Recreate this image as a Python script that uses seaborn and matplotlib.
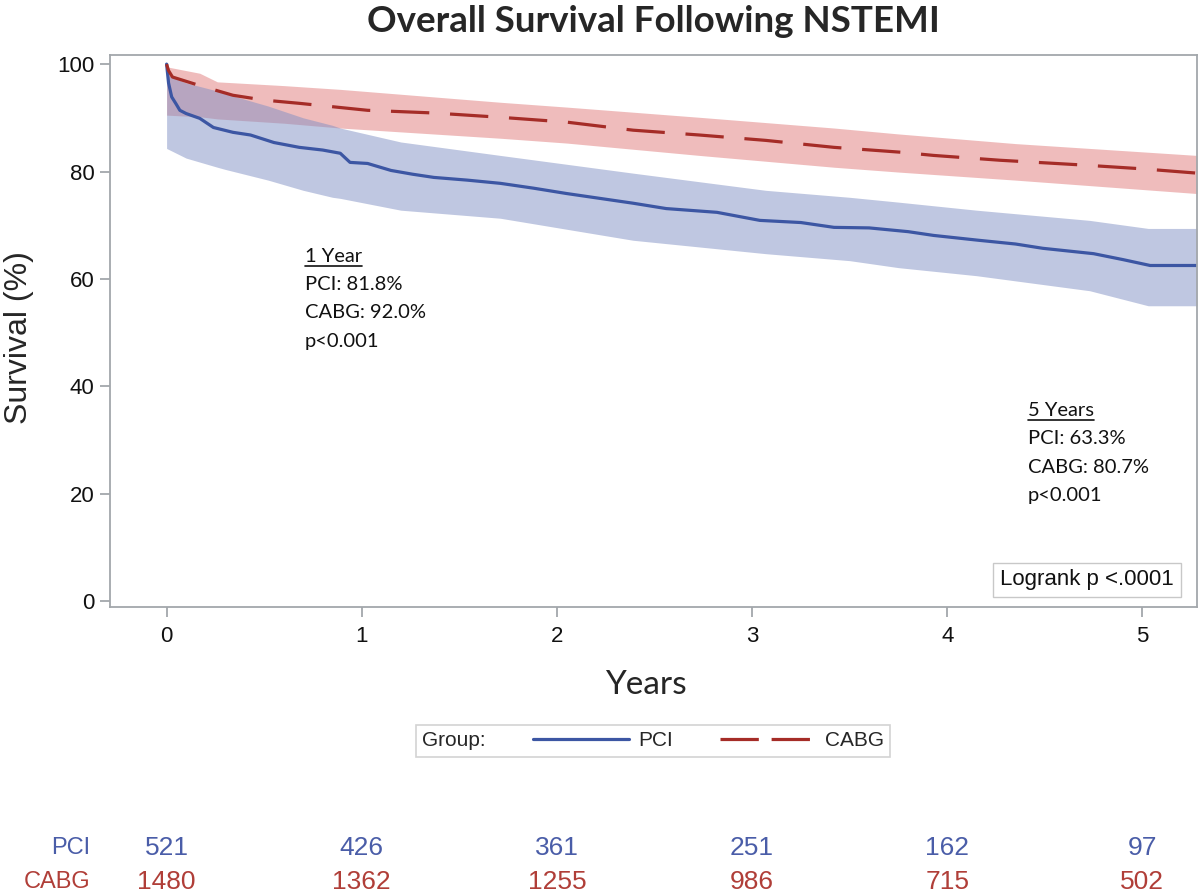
import numpy as np
import pandas as pd
import seaborn as sns
import matplotlib
matplotlib.use("Agg")
from matplotlib import pyplot as plt
from matplotlib import transforms
from matplotlib.lines import Line2D

# Kaplan-Meier estimates (years, survival %)
pci_t = [0, 0.01, 0.026, 0.05, 0.068, 0.10, 0.17, 0.24, 0.34, 0.43, 0.55, 0.68,
         0.80, 0.89, 0.94, 1.03, 1.15, 1.26, 1.37, 1.54, 1.71, 1.88, 2.05, 2.22,
         2.39, 2.56, 2.82, 3.04, 3.25, 3.42, 3.60, 3.80, 3.93, 4.16, 4.35, 4.49,
         4.62, 4.75, 4.90, 5.04, 5.28]
pci_s = [100, 96.5, 93.9, 92.5, 91.4, 90.8, 89.9, 88.2, 87.3, 86.8, 85.4, 84.5,
         84.0, 83.4, 81.7, 81.5, 80.2, 79.5, 78.9, 78.4, 77.8, 76.9, 75.9, 75.0,
         74.1, 73.1, 72.4, 70.9, 70.5, 69.6, 69.5, 68.8, 68.1, 67.2, 66.5, 65.7,
         65.2, 64.7, 63.6, 62.5, 62.5]

cabg_t = [0, 0.01, 0.03, 0.10, 0.17, 0.34, 0.50, 0.68, 1.03, 1.37, 1.71, 2.05,
          2.39, 2.73, 3.07, 3.42, 3.76, 3.93, 4.27, 4.70, 5.00, 5.28]
cabg_s = [100, 98.8, 97.6, 96.8, 96.0, 94.2, 93.3, 92.7, 91.4, 90.9, 90.1, 89.2,
          87.7, 86.8, 85.8, 84.5, 83.6, 83.0, 82.1, 81.2, 80.5, 79.7]

# 95% confidence bands
pci_band_t = [0, 0.10, 0.26, 0.30, 0.52, 0.70, 0.85, 0.89, 1.20, 1.71, 2.39,
              3.07, 3.50, 3.75, 4.15, 4.73, 5.03, 5.28]
pci_lower = [84.3, 82.5, 80.8, 80.4, 78.4, 76.5, 75.2, 75.0, 72.8, 71.3, 67.2,
             64.7, 63.4, 62.1, 60.6, 57.8, 55.0, 55.0]
pci_upper = [98.0, 96.5, 95.0, 94.5, 92.2, 90.0, 88.6, 88.1, 85.5, 83.0, 79.7,
             76.5, 75.2, 74.3, 72.8, 70.9, 69.4, 69.4]

cabg_band_t = [0, 0.17, 0.26, 0.60, 0.89, 1.71, 2.05, 2.73, 3.42, 3.75, 4.35,
               5.28]
cabg_lower = [90.5, 90.2, 89.8, 89.0, 88.1, 86.2, 85.3, 83.0, 80.8, 79.9, 78.4,
              75.9]
cabg_upper = [99.5, 98.3, 96.7, 96.0, 95.3, 92.9, 92.0, 90.1, 88.1, 87.0, 85.2,
              83.0]

# numbers at risk
risk_years = [0, 1, 2, 3, 4, 5]
pci_risk = [521, 426, 361, 251, 162, 97]
cabg_risk = [1480, 1362, 1255, 986, 715, 502]

blue = "#3C56A3"
red = "#A52C27"
blue_txt = "#4A5DA8"
red_txt = "#B03E38"
lato = ["Lato", "DejaVu Sans"]

sns.set_theme(style="white")
plt.rcParams["font.family"] = ["Liberation Sans", "DejaVu Sans"]

fig = plt.figure(figsize=(12, 8.93), dpi=100)
W, H = 1200, 893
ax = fig.add_axes([110 / W, 1 - 607 / H, 1087 / W, 552 / H])

ax.fill_between(cabg_band_t, cabg_lower, cabg_upper,
                color="#E07A7A", alpha=0.5, lw=0)
ax.fill_between(pci_band_t, pci_lower, pci_upper,
                color="#8090C4", alpha=0.5, lw=0)

df = pd.concat([
    pd.DataFrame({"Years": pci_t, "Survival": pci_s, "Group": "PCI"}),
    pd.DataFrame({"Years": cabg_t, "Survival": cabg_s, "Group": "CABG"}),
])
sns.lineplot(data=df, x="Years", y="Survival", hue="Group", style="Group",
             palette={"PCI": blue, "CABG": red},
             dashes={"PCI": "", "CABG": (12, 6.5)},
             estimator=None, sort=False,
             linewidth=2.3, legend=False, ax=ax)

ax.set_xlim(-0.29, 5.28)
ax.set_ylim(-1.1, 101.7)
ax.set_xticks([0, 1, 2, 3, 4, 5])
ax.set_yticks([0, 20, 40, 60, 80, 100])
for s in ax.spines.values():
    s.set_color("#A3A7AB")
    s.set_linewidth(1.3)
ax.tick_params(axis="both", which="major", length=7, width=1.3,
               color="#A3A7AB", labelsize=16, labelcolor="#111111")
ax.tick_params(axis="x", pad=7)
ax.tick_params(axis="y", pad=4)
ax.xaxis.set_ticks_position("bottom")
ax.yaxis.set_ticks_position("left")

ax.set_xlabel("Years", fontsize=24, family=lato)
ax.set_ylabel("Survival (%)", fontsize=23)
ax.xaxis.set_label_coords((646 - 110) / 1087, (607 - 670) / 552)
ax.yaxis.set_label_coords((34 - 110) / 1087, (607 - 338) / 552)

fig.text(653 / W, 1 - 21 / H, "Overall Survival Following NSTEMI",
         ha="center", va="center", fontsize=26.5, fontweight="bold",
         family=lato)

# annotation blocks
def block(x_px, y_px, lines, pitch=28.5):
    for i, line in enumerate(lines):
        t = fig.text(x_px / W, 1 - (y_px + i * pitch) / H, line,
                     ha="left", va="center", fontsize=14.5,
                     family=lato, color="#111111")
        if i == 0:
            fig.canvas.draw()
            bb = t.get_window_extent()
            yb = bb.y0 - 1
            fig.add_artist(Line2D([bb.x0 / W, bb.x1 / W], [yb / H, yb / H],
                                  color="#111111", lw=1.2))

block(305, 256, ["1 Year", "PCI: 81.8%", "CABG: 92.0%", "p<0.001"])
block(1028, 410, ["5 Years", "PCI: 63.3%", "CABG: 80.7%", "p<0.001"])

fig.text(1087 / W, 1 - 580 / H, "Logrank p <.0001", ha="center", va="center",
         fontsize=16, color="#111111",
         bbox=dict(boxstyle="square,pad=0.3", fc="white", ec="#C8C8C8", lw=1))

# legend with the title on the left
handles = [Line2D([], [], color=blue, lw=2.3),
           Line2D([], [], color=red, lw=2.3, dashes=(12, 4))]
leg = fig.legend(handles, ["PCI", "CABG"], title="Group:", ncol=2,
                 loc="center", bbox_to_anchor=(653 / W, 1 - 741 / H),
                 fontsize=15, title_fontsize=15, handlelength=4.6,
                 handletextpad=0.45, columnspacing=0.7, frameon=True,
                 fancybox=False, edgecolor="#C8C8C8", borderpad=0.3)
leg.get_frame().set_linewidth(1.2)
box = leg._legend_box
title_box, handle_box = box.get_children()
box._children = [handle_box]
handle_box._children.insert(0, title_box)
handle_box.sep = 34

# numbers at risk table
trans = transforms.blended_transform_factory(ax.transData, fig.transFigure)
fig.text(90 / W, 1 - 848 / H, "PCI", ha="right", va="center", fontsize=17,
         color=blue_txt)
fig.text(90 / W, 1 - 882 / H, "CABG", ha="right", va="center", fontsize=17,
         color=red_txt)
for yr, n1, n2 in zip(risk_years, pci_risk, cabg_risk):
    ax.text(yr, 1 - 848 / H, str(n1), transform=trans, ha="center",
            va="center", fontsize=19, color=blue_txt, clip_on=False)
    ax.text(yr, 1 - 882 / H, str(n2), transform=trans, ha="center",
            va="center", fontsize=19, color=red_txt, clip_on=False)

fig.savefig("out.png", dpi=100)
